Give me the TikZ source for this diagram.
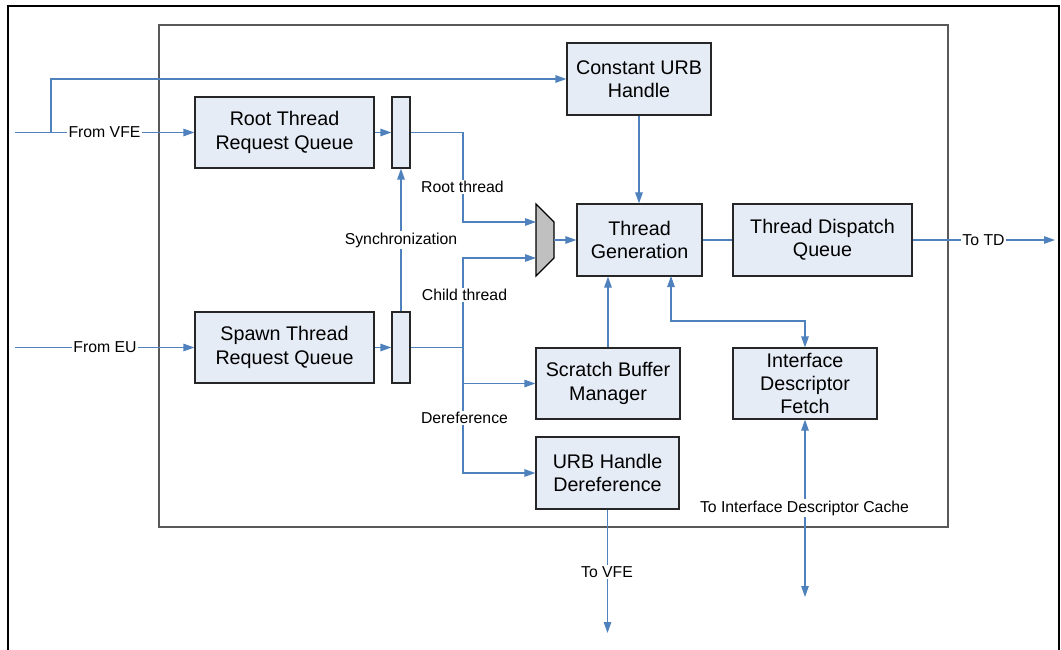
\documentclass[tikz,border=0pt]{standalone}
\usepackage{fontspec}
\setmainfont{Liberation Sans}
\usetikzlibrary{arrows.meta}
\definecolor{lineblue}{RGB}{79,129,189}
\definecolor{boxfill}{RGB}{230,236,246}
\definecolor{muxgray}{RGB}{192,192,192}
\begin{document}
\begin{tikzpicture}[x=1pt,y=-1pt,
  box/.style={draw=black!85, line width=1.2pt, fill=boxfill, inner sep=0pt, align=center,
    font=\fontsize{19.7}{23.4}\selectfont},
  conn/.style={draw=lineblue, line width=1.2pt},
  arr/.style={conn, -{Triangle[length=11pt,width=7.5pt]}},
  darr/.style={conn, {Triangle[length=11pt,width=7.5pt]}-{Triangle[length=11pt,width=7.5pt]}},
  lbl/.style={fill=white, inner sep=1.2pt, font=\fontsize{15.8}{18}\selectfont}]
\useasboundingbox (0,0) rectangle (1061,650);
% frames
\draw[line width=2.2pt, line join=miter] (8,650) -- (8,6) -- (1059,6) -- (1059,650);
\draw[line width=1.5pt, black!65] (159,25) rectangle (948,527);
% boxes
\node[box, minimum width=179pt, minimum height=71pt] (rtq) at (284.5,132.5) {Root Thread\\Request Queue};
\node[box, minimum width=18pt, minimum height=71pt] (rbar) at (401,132.5) {};
\node[box, minimum width=144pt, minimum height=72pt] (curb) at (639,79) {Constant URB\\Handle};
\node[box, minimum width=125pt, minimum height=72pt] (tg) at (639.5,240) {Thread\\Generation};
\node[box, minimum width=179pt, minimum height=72pt] (tdq) at (822.5,240) {Thread Dispatch\\Queue};
\node[box, minimum width=179pt, minimum height=71pt] (stq) at (284.5,347.5) {Spawn Thread\\Request Queue};
\node[box, minimum width=18pt, minimum height=71pt] (sbar) at (401,347.5) {};
\node[box, minimum width=144pt, minimum height=71pt] (sbm) at (608,383.5) {Scratch Buffer\\Manager};
\node[box, minimum width=143pt, minimum height=72pt] (urbd) at (607.5,473) {URB Handle\\Dereference};
\node[box, minimum width=144pt, minimum height=71pt] (idf) at (805,383.5) {Interface\\Descriptor\\Fetch};
% mux
\draw[line width=1.2pt, fill=muxgray, line join=miter] (536,204) -- (554,222) -- (554,258) -- (536,276) -- cycle;
\coordinate (muxin1) at (536,222);
\coordinate (muxin2) at (536,258);
\coordinate (muxout) at (554,240);
% free ends
\coordinate (vfe) at (15,132.5);
\coordinate (vfesplit) at (51,132.5);
\coordinate (eu) at (15,347.5);
\coordinate (td) at (1055,240);
\coordinate (split) at (463,347.5);
\coordinate (tgp) at (671,276);
\coordinate (idc) at (805,597);
\coordinate (tovfe) at (607.5,633);
% connectors
\draw[arr] (vfe) -- (rtq.west);
\draw[arr] (vfesplit) -- (51,79) -- (curb.west);
\draw[arr] (rtq.east) -- (rbar.west);
\draw[arr] (rbar.east) -| (463,222) -- (muxin1);
\draw[arr] (muxout) -- (tg.west);
\draw[arr] (curb.south) -- (curb.south |- tg.north);
\draw[conn] (tg.east) -- (tdq.west);
\draw[arr] (tdq.east) -- (td);
\draw[arr] (eu) -- (stq.west);
\draw[arr] (stq.east) -- (sbar.west);
\draw[arr] (sbar.north) -- (rbar.south);
\draw[conn] (sbar.east) -- (split);
\draw[arr] (split) |- (muxin2);
\draw[arr] (split) |- (sbm.west);
\draw[arr] (split) |- (urbd.west);
\draw[arr] (sbm.north) -- (sbm.north |- tg.south);
\draw[darr] (tgp) -- (671,321) -| (idf.north);
\draw[darr] (idf.south) -- (idc);
\draw[arr] (urbd.south) -- (tovfe);
% labels
\node[lbl] (lvfe) at (104.5,132.5) {From VFE};
\node[lbl] (leu) at (105,347.5) {From EU};
\node[lbl] (lroot) at (462.5,187) {Root thread};
\node[lbl] (lsync) at (401,240) {Synchronization};
\node[lbl] (lchild) at (464.5,295) {Child thread};
\node[lbl] (lderef) at (464.5,418) {Dereference};
\node[lbl] (ltd) at (983.5,240) {To TD};
\node[lbl] (ltovfe) at (607,572) {To VFE};
\node[lbl] (lidc) at (804.5,508) {To Interface Descriptor Cache};
\end{tikzpicture}
\end{document}
